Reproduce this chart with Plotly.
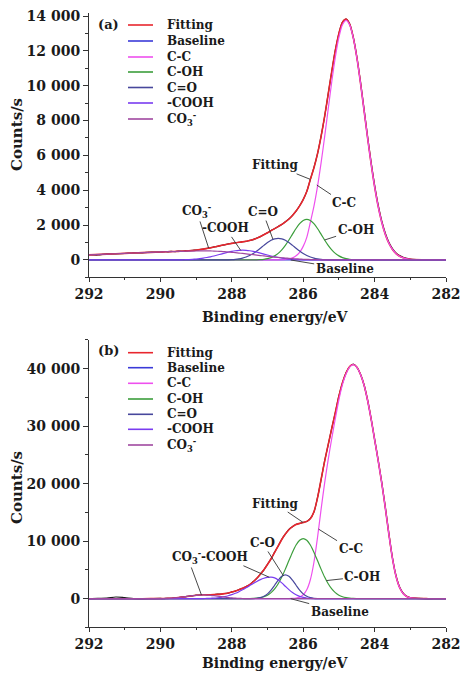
import plotly.graph_objects as go

W, H = 462, 674
FONT = "DejaVu Serif"
INK = "#1a1a1a"

# ---------------- shared energy grids (eV) ----------------
ENERGY = [292.0, 291.5, 291.0, 290.5,
          290.0, 289.9, 289.8, 289.7, 289.6, 289.5, 289.4, 289.3, 289.2, 289.1,
          289.0, 288.9, 288.8, 288.7, 288.6, 288.5, 288.4, 288.3, 288.2, 288.1,
          288.0, 287.9, 287.8, 287.7, 287.6, 287.5, 287.4, 287.3, 287.2, 287.1,
          287.0, 286.9, 286.8, 286.7, 286.6, 286.5, 286.4, 286.3, 286.2, 286.1,
          286.0, 285.9, 285.8, 285.7, 285.6, 285.5, 285.4, 285.3, 285.2, 285.1,
          285.0, 284.9, 284.8, 284.7, 284.6, 284.5, 284.4, 284.3, 284.2, 284.1,
          284.0, 283.9, 283.8, 283.7, 283.6, 283.5, 283.4, 283.3, 283.2, 283.1,
          283.0, 282.5, 282.0]
RAW_ENERGY = [292.0, 291.75, 291.5, 291.25, 291.0, 290.75, 290.5, 290.25,
              290.0, 289.9, 289.8, 289.7, 289.6, 289.5, 289.4, 289.3, 289.2, 289.1,
              289.0, 288.9, 288.8, 288.7, 288.6, 288.5, 288.4, 288.3, 288.2, 288.1,
              288.0, 287.9, 287.8, 287.7, 287.6, 287.5, 287.4, 287.3, 287.2, 287.1,
              287.0, 286.9, 286.8, 286.7, 286.6, 286.5, 286.4, 286.3, 286.2, 286.1,
              286.0, 285.9, 285.8, 285.7, 285.6, 285.5, 285.4, 285.3, 285.2, 285.1,
              285.0, 284.9, 284.8, 284.7, 284.6, 284.5, 284.4, 284.3, 284.2, 284.1,
              284.0, 283.9, 283.8, 283.7, 283.6, 283.5, 283.4, 283.3, 283.2, 283.1,
              283.0, 282.75, 282.5, 282.25, 282.0]
BASE_X = [292.0, 282.0]

# ---------------- panel (a) ----------------
a_raw = [300, 285, 345, 350, 372, 412, 408, 452,
         458, 478, 466, 492, 483, 505, 500, 522, 528, 556,
         565, 600, 620, 668, 695, 750, 780, 840, 870, 925,
         948, 995, 1008, 1050, 1066, 1125, 1168, 1258, 1338, 1460,
         1560, 1692, 1796, 1925, 2035, 2190, 2348, 2562, 2802, 3110,
         3465, 3935, 4620, 5295, 6085, 7095, 8230, 9530, 10810, 12040,
         12995, 13650, 13820, 13560, 12810, 11690, 10290, 8730, 7140, 5640,
         4300, 3160, 2240, 1540, 1020, 660, 410, 250, 150, 90,
         55, 20, 5, 10, 0]
a_fit = [290, 335, 380, 420,
         460, 467, 474, 482, 489, 496, 505, 516, 530, 547,
         569, 594, 624, 660, 699, 741, 786, 832, 876, 916,
         953, 986, 1013, 1040, 1071, 1115, 1172, 1248, 1342, 1450,
         1565, 1682, 1800, 1916, 2039, 2181, 2351, 2554, 2806, 3101,
         3468, 3925, 4626, 5282, 6092, 7083, 8239, 9514, 10818, 12023,
         13005, 13637, 13825, 13539, 12789, 11649, 10234, 8662, 7066, 5557,
         4210, 3075, 2164, 1467, 959, 604, 367, 214, 121, 66,
         34, 0, 0]
a_base = [0, 0]
a_cc_x = [292.0,
          286.9, 286.8, 286.7, 286.6, 286.5, 286.4, 286.3, 286.2, 286.1, 286.0,
          285.9, 285.8, 285.7, 285.6, 285.5, 285.4, 285.3, 285.2, 285.1, 285.0,
          284.9, 284.8, 284.7, 284.6, 284.5, 284.4, 284.3, 284.2, 284.1, 284.0,
          283.9, 283.8, 283.7, 283.6, 283.5, 283.4, 283.3, 283.2, 283.1, 283.0,
          282.5, 282.0]
a_cc_y = [0,
          0, 2, 5, 12, 28, 60, 120, 240, 440, 780,
          1300, 2164, 3075, 4210, 5557, 7066, 8660, 10230, 11640, 12770,
          13500, 13750, 13500, 12770, 11640, 10230, 8660, 7066, 5557, 4210,
          3075, 2164, 1467, 959, 604, 367, 214, 121, 66, 34,
          0, 0]
a_coh_x = [292.0,
           287.5, 287.4, 287.3, 287.2, 287.1, 287.0,
           286.9, 286.8, 286.7, 286.6, 286.5, 286.4, 286.3, 286.2, 286.1, 286.0,
           285.9, 285.8, 285.7, 285.6, 285.5, 285.4, 285.3, 285.2, 285.1, 285.0,
           284.9, 284.8, 284.7, 284.6, 284.5, 284.4, 284.3,
           282.0]
a_coh_y = [0,
           2, 4, 9, 19, 39, 75,
           137, 235, 380, 581, 840, 1147, 1480, 1805, 2081, 2265,
           2330, 2265, 2081, 1805, 1480, 1147, 840, 581, 380, 235,
           137, 75, 39, 19, 9, 4, 2,
           0]
a_co_x = [292.0,
          288.3, 288.2, 288.1, 288.0, 287.9, 287.8, 287.7, 287.6, 287.5, 287.4,
          287.3, 287.2, 287.1, 287.0, 286.9, 286.8, 286.7, 286.6, 286.5, 286.4,
          286.3, 286.2, 286.1, 286.0, 285.9, 285.8, 285.7, 285.6, 285.5, 285.4,
          285.3, 285.2, 285.1,
          282.0]
a_co_y = [0,
          2, 5, 10, 19, 36, 63, 105, 168, 256, 371,
          512, 672, 839, 997, 1128, 1215, 1245, 1215, 1128, 997,
          839, 672, 512, 371, 256, 168, 105, 63, 36, 19,
          10, 5, 2,
          0]
a_cooh_x = [292.0, 290.0,
            289.7, 289.6, 289.5, 289.4, 289.3, 289.2, 289.1, 289.0, 288.9, 288.8,
            288.7, 288.6, 288.5, 288.4, 288.3, 288.2, 288.1, 288.0, 287.9, 287.8,
            287.7, 287.6, 287.5, 287.4, 287.3, 287.2, 287.1, 287.0, 286.9, 286.8,
            286.7, 286.6, 286.5, 286.4, 286.3, 286.2, 286.1, 286.0, 285.9, 285.8,
            285.7,
            282.0]
a_cooh_y = [0, 0,
            2, 4, 6, 10, 16, 25, 37, 54, 76, 104,
            140, 182, 230, 284, 340, 396, 448, 494, 530, 552,
            560, 552, 530, 494, 448, 396, 340, 284, 230, 182,
            140, 104, 76, 54, 37, 25, 16, 10, 6, 4,
            2,
            0]
a_co3_x = [292.0, 291.5, 291.0, 290.5,
           290.0, 289.9, 289.8, 289.7, 289.6, 289.5, 289.4, 289.3, 289.2, 289.1,
           289.0, 288.9, 288.8, 288.7, 288.6, 288.5, 288.4, 288.3, 288.2, 288.1,
           288.0, 287.9, 287.8, 287.7, 287.6, 287.5, 287.4, 287.3, 287.2, 287.1,
           287.0, 286.9, 286.8, 286.7, 286.6, 286.5, 286.4, 286.3, 286.2, 286.1,
           286.0, 285.9, 285.8, 285.7, 285.6, 285.5, 285.4, 285.3, 285.2, 285.1,
           282.0]
a_co3_y = [290, 335, 380, 420,
           460, 467, 474, 480, 485, 490, 495, 500, 505, 510,
           515, 518, 520, 520, 517, 511, 502, 490, 475, 458,
           440, 420, 398, 375, 351, 327, 303, 279, 255, 232,
           209, 187, 166, 146, 127, 109, 93, 78, 64, 52,
           42, 33, 25, 19, 14, 10, 7, 4, 2, 1,
           0]

# ---------------- panel (b) ----------------
b_raw = [0, 60, 90, 300, 180, 20, -30, 10,
         40, 20, 80, 70, 160, 180, 290, 330, 470, 500,
         620, 640, 700, 670, 730, 700, 780, 790, 910, 980,
         1180, 1310, 1580, 1790, 2110, 2440, 2980, 3540, 4290, 5030,
         5990, 6930, 8100, 9180, 10350, 11230, 12060, 12520, 12950, 13080,
         13300, 13420, 13950, 15060, 17560, 20650, 23950, 26760, 29650, 32340,
         35260, 37530, 39300, 40330, 40780, 40260, 39120, 37290, 34660, 31400,
         27760, 24100, 20220, 15930, 11330, 7120, 4000, 2030, 960, 420,
         180, 40, -20, 20, 0]
b_fit = [0, 0, 0, 0,
         19, 33, 55, 88, 134, 194, 267, 352, 440, 525,
         597, 650, 680, 690, 700, 720, 750, 800, 880, 1000,
         1150, 1330, 1550, 1800, 2080, 2450, 2950, 3550, 4250, 5050,
         5950, 6950, 8050, 9200, 10300, 11250, 12000, 12550, 12900, 13100,
         13250, 13450, 13900, 15100, 17500, 20700, 23900, 26806, 29603, 32392,
         35214, 37579, 39247, 40377, 40740, 40308, 39077, 37240, 34600, 31340,
         27680, 24000, 20100, 15800, 11200, 7000, 3900, 1950, 900, 380,
         150, 0, 0]
b_base = [0, 0]
b_cc_x = [292.0,
          286.5, 286.4, 286.3, 286.2, 286.1, 286.0,
          285.9, 285.8, 285.7, 285.6, 285.5, 285.4, 285.3, 285.2, 285.1, 285.0,
          284.9, 284.8, 284.7, 284.6, 284.5, 284.4, 284.3, 284.2, 284.1, 284.0,
          283.9, 283.8, 283.7, 283.6, 283.5, 283.4, 283.3, 283.2, 283.1, 283.0,
          282.5, 282.0]
b_cc_y = [0,
          0, 10, 40, 110, 280, 680,
          1550, 3300, 6300, 10600, 15500, 20100, 24200, 27900, 31340, 34600,
          37240, 39070, 40290, 40700, 40290, 39070, 37240, 34600, 31340, 27680,
          24000, 20100, 15800, 11200, 7000, 3900, 1950, 900, 380, 150,
          0, 0]
b_coh_x = [292.0,
           287.6, 287.5, 287.4, 287.3, 287.2, 287.1, 287.0,
           286.9, 286.8, 286.7, 286.6, 286.5, 286.4, 286.3, 286.2, 286.1, 286.0,
           285.9, 285.8, 285.7, 285.6, 285.5, 285.4, 285.3, 285.2, 285.1, 285.0,
           284.9, 284.8, 284.7, 284.6, 284.5, 284.4,
           282.0]
b_coh_y = [0,
           7, 18, 40, 87, 177, 339, 614,
           1052, 1703, 2606, 3766, 5145, 6640, 8097, 9332, 10157, 10450,
           10157, 9332, 8097, 6640, 5145, 3766, 2606, 1703, 1052, 614,
           339, 177, 87, 40, 18, 7,
           0]
b_co_x = [292.0,
          287.6, 287.5, 287.4, 287.3, 287.2, 287.1, 287.0,
          286.9, 286.8, 286.7, 286.6, 286.5, 286.4, 286.3, 286.2, 286.1, 286.0,
          285.9, 285.8, 285.7, 285.6, 285.5, 285.4,
          282.0]
b_co_y = [0,
          2, 7, 24, 70, 182, 418, 843,
          1496, 2338, 3215, 3893, 4150, 3893, 3215, 2338, 1496, 843,
          418, 182, 70, 24, 7, 2,
          0]
b_cooh_x = [292.0,
            289.4, 289.3, 289.2, 289.1, 289.0, 288.9, 288.8, 288.7, 288.6, 288.5,
            288.4, 288.3, 288.2, 288.1, 288.0, 287.9, 287.8, 287.7, 287.6, 287.5,
            287.4, 287.3, 287.2, 287.1, 287.0, 286.9, 286.8, 286.7, 286.6, 286.5,
            286.4, 286.3, 286.2, 286.1, 286.0, 285.9, 285.8, 285.7, 285.6, 285.5,
            285.4,
            282.0]
b_cooh_y = [0,
            0, 1, 2, 5, 8, 15, 25, 42, 68, 107,
            165, 246, 359, 507, 698, 935, 1218, 1542, 1899, 2274,
            2650, 3003, 3309, 3548, 3698, 3750, 3622, 3265, 2746, 2155,
            1578, 1078, 687, 409, 227, 117, 57, 26, 11, 4,
            2,
            0]
b_co3_x = [292.0, 290.5,
           290.0, 289.9, 289.8, 289.7, 289.6, 289.5, 289.4, 289.3, 289.2, 289.1,
           289.0, 288.9, 288.8, 288.7, 288.6, 288.5, 288.4, 288.3, 288.2, 288.1,
           288.0, 287.9, 287.8, 287.7, 287.6, 287.5, 287.4, 287.3,
           282.0]
b_co3_y = [0, 0,
           19, 33, 55, 88, 134, 194, 267, 351, 438, 520,
           589, 634, 650, 634, 589, 520, 438, 351, 267, 194,
           134, 88, 55, 33, 19, 10, 5, 3,
           0]

# ---------------- ticks / labels ----------------
X_TICKS = [292, 290, 288, 286, 284, 282]
X_TICK_TEXT = ["292", "290", "288", "286", "284", "282"]
X_MINOR = [291, 289, 287, 285, 283]
A_Y_TICKS = [0, 2000, 4000, 6000, 8000, 10000, 12000, 14000]
A_Y_TICK_TEXT = ["0", "2 000", "4 000", "6 000", "8 000", "10 000", "12 000", "14 000"]
A_Y_MINOR = [-1000, 1000, 3000, 5000, 7000, 9000, 11000, 13000]
B_Y_TICKS = [0, 10000, 20000, 30000, 40000]
B_Y_TICK_TEXT = ["0", "10 000", "20 000", "30 000", "40 000"]
B_Y_MINOR = [-5000, 5000, 15000, 25000, 35000, 45000]
SERIES_NAMES = ["Fitting", "Baseline", "C-C", "C-OH", "C=O", "-COOH",
                "CO<sub>3</sub><sup>-</sup>"]

COLORS = {
    "raw": "#1c1c1c",
    "Fitting": "#e8262e",
    "Baseline": "#3a3ad8",
    "C-C": "#ee50ee",
    "C-OH": "#3c9e3c",
    "C=O": "#47479c",
    "-COOH": "#7a3cf0",
    "CO3": "#a048a0",
}

for xs, ys in [(RAW_ENERGY, a_raw), (ENERGY, a_fit), (a_cc_x, a_cc_y), (a_coh_x, a_coh_y),
               (a_co_x, a_co_y), (a_cooh_x, a_cooh_y), (a_co3_x, a_co3_y),
               (RAW_ENERGY, b_raw), (ENERGY, b_fit), (b_cc_x, b_cc_y), (b_coh_x, b_coh_y),
               (b_co_x, b_co_y), (b_cooh_x, b_cooh_y), (b_co3_x, b_co3_y)]:
    assert len(xs) == len(ys), (len(xs), len(ys))

fig = go.Figure()


def add_line(x, y, color, width, xa, ya):
    fig.add_trace(go.Scatter(x=x, y=y, mode="lines", xaxis=xa, yaxis=ya,
                             line=dict(color=color, width=width, shape="spline", smoothing=0.8),
                             showlegend=False, hoverinfo="skip"))


panels = [
    ("x", "y", a_raw, a_fit, a_base,
     [(a_cc_x, a_cc_y, "C-C"), (a_coh_x, a_coh_y, "C-OH"), (a_co_x, a_co_y, "C=O"),
      (a_cooh_x, a_cooh_y, "-COOH"), (a_co3_x, a_co3_y, "CO3")]),
    ("x2", "y2", b_raw, b_fit, b_base,
     [(b_cc_x, b_cc_y, "C-C"), (b_coh_x, b_coh_y, "C-OH"), (b_co_x, b_co_y, "C=O"),
      (b_cooh_x, b_cooh_y, "-COOH"), (b_co3_x, b_co3_y, "CO3")]),
]
for xa, ya, raw, fit, base, comps in panels:
    add_line(RAW_ENERGY, raw, COLORS["raw"], 1.2, xa, ya)
    add_line(ENERGY, fit, COLORS["Fitting"], 1.6, xa, ya)
    add_line(BASE_X, base, COLORS["Baseline"], 1.3, xa, ya)
    for cx, cy, key in comps:
        add_line(cx, cy, COLORS[key], 1.2, xa, ya)


# ---------------- layout geometry (pixels -> paper) ----------------
def fx(px):
    return px / W


def fy(py):
    return 1 - py / H


XD = [fx(89), fx(446)]
A_YD = [fy(277.4), fy(13.4)]
B_YD = [fy(627.45), fy(339.95)]

TICKFONT = dict(family=FONT, size=14, color=INK, weight="bold")
axis_common = dict(showline=True, linecolor="#333", linewidth=1, ticks="outside",
                   tickcolor="#333", tickwidth=1, showgrid=False, zeroline=False,
                   mirror=False, automargin=False, tickfont=TICKFONT, tickmode="array",
                   ticklabeloverflow="allow")

fig.update_layout(
    template="none",
    width=W, height=H, autosize=False,
    margin=dict(l=0, r=0, t=0, b=0, pad=0, autoexpand=False),
    paper_bgcolor="white", plot_bgcolor="white", showlegend=False,
    font=dict(family=FONT, color=INK),
    xaxis=dict(domain=XD, range=[292, 282], anchor="y", tickvals=X_TICKS, ticktext=X_TICK_TEXT,
               ticklen=4, minor=dict(tickmode="array", tickvals=X_MINOR, ticks="outside",
                                     ticklen=2, tickcolor="#333"), **axis_common),
    yaxis=dict(domain=A_YD, range=[-1000, 14150], anchor="x", tickvals=A_Y_TICKS,
               ticktext=A_Y_TICK_TEXT, ticklen=5,
               minor=dict(tickmode="array", tickvals=A_Y_MINOR, ticks="outside", ticklen=3,
                          tickcolor="#333"), **axis_common),
    xaxis2=dict(domain=XD, range=[292, 282], anchor="y2", tickvals=X_TICKS, ticktext=X_TICK_TEXT,
                ticklen=4, minor=dict(tickmode="array", tickvals=X_MINOR, ticks="outside",
                                      ticklen=2, tickcolor="#333"), **axis_common),
    yaxis2=dict(domain=B_YD, range=[-5000, 45000], anchor="x2", tickvals=B_Y_TICKS,
                ticktext=B_Y_TICK_TEXT, ticklen=5,
                minor=dict(tickmode="array", tickvals=B_Y_MINOR, ticks="outside", ticklen=3,
                           tickcolor="#333"), **axis_common),
)

ann = []
shapes = []


def ptext(text, px, py, size=13, angle=0, anchor="center"):
    ann.append(dict(text=text, x=fx(px), y=fy(py), xref="paper", yref="paper",
                    showarrow=False, xanchor=anchor, yanchor="middle", textangle=angle,
                    font=dict(family=FONT, size=size, color=INK, weight="bold")))


# axis titles and panel tags
for ty, cy in [(317, 135), (663, 488)]:
    ptext("Binding energy/eV", 275, ty, size=14)
    ptext("Counts/s", 17, cy, size=15, angle=-90)
ptext("(a)", 108, 24, size=13)
ptext("(b)", 108, 350, size=13)

# legends drawn as line samples + labels
legend_keys = ["Fitting", "Baseline", "C-C", "C-OH", "C=O", "-COOH", "CO3"]
for rows in ([25, 41, 57, 72, 87.5, 103, 119], [352.7, 367.7, 383.3, 399, 414.3, 429.3, 445]):
    for name, key, ry in zip(SERIES_NAMES, legend_keys, rows):
        shapes.append(dict(type="line", xref="paper", yref="paper", x0=fx(128), x1=fx(153),
                           y0=fy(ry), y1=fy(ry), line=dict(color=COLORS[key], width=1.6)))
        ptext(name, 165, ry, size=12, anchor="left")

# leader-line labels
CO3_TXT = "CO<sub>3</sub><sup>-</sup>"
A_LABELS = [("Fitting", 285.8, 4626, -35, -14), ("C-C", 285.62, 4300, 27, 18),
            ("C-OH", 285.4, 1147, 31, -10), ("C=O", 286.85, 1200, -10, -27),
            (CO3_TXT, 288.65, 690, -12, -37), ("-COOH", 287.75, 552, -15, -22),
            ("Baseline", 286.35, 0, 54, 9)]
B_LABELS = [("Fitting", 286.0, 13250, -28, -19), ("C-C", 285.57, 12100, 32, 20),
            ("C-OH", 285.35, 3150, 36, -4), ("C-O", 286.55, 3950, -21, -33),
            (CO3_TXT, 288.85, 650, -14, -38), ("-COOH", 286.95, 3730, -45, -20),
            ("Baseline", 286.35, 0, 49, 13)]
for labels, xr, yr in [(A_LABELS, "x", "y"), (B_LABELS, "x2", "y2")]:
    for text, x, y, ax, ay in labels:
        ann.append(dict(text=text, x=x, y=y, xref=xr, yref=yr, ax=ax, ay=ay,
                        showarrow=True, arrowhead=0, arrowwidth=0.9, arrowcolor="#333",
                        standoff=0, font=dict(family=FONT, size=12, color=INK, weight="bold")))

fig.update_layout(annotations=ann, shapes=shapes)

# remove the browser's default page margin so the 462x674 figure fills the window exactly
fig.write_html("out.html",
               config={"displayModeBar": False, "staticPlot": True},
               post_script="document.body.style.margin='0';"
                           "document.body.style.overflow='hidden';")
